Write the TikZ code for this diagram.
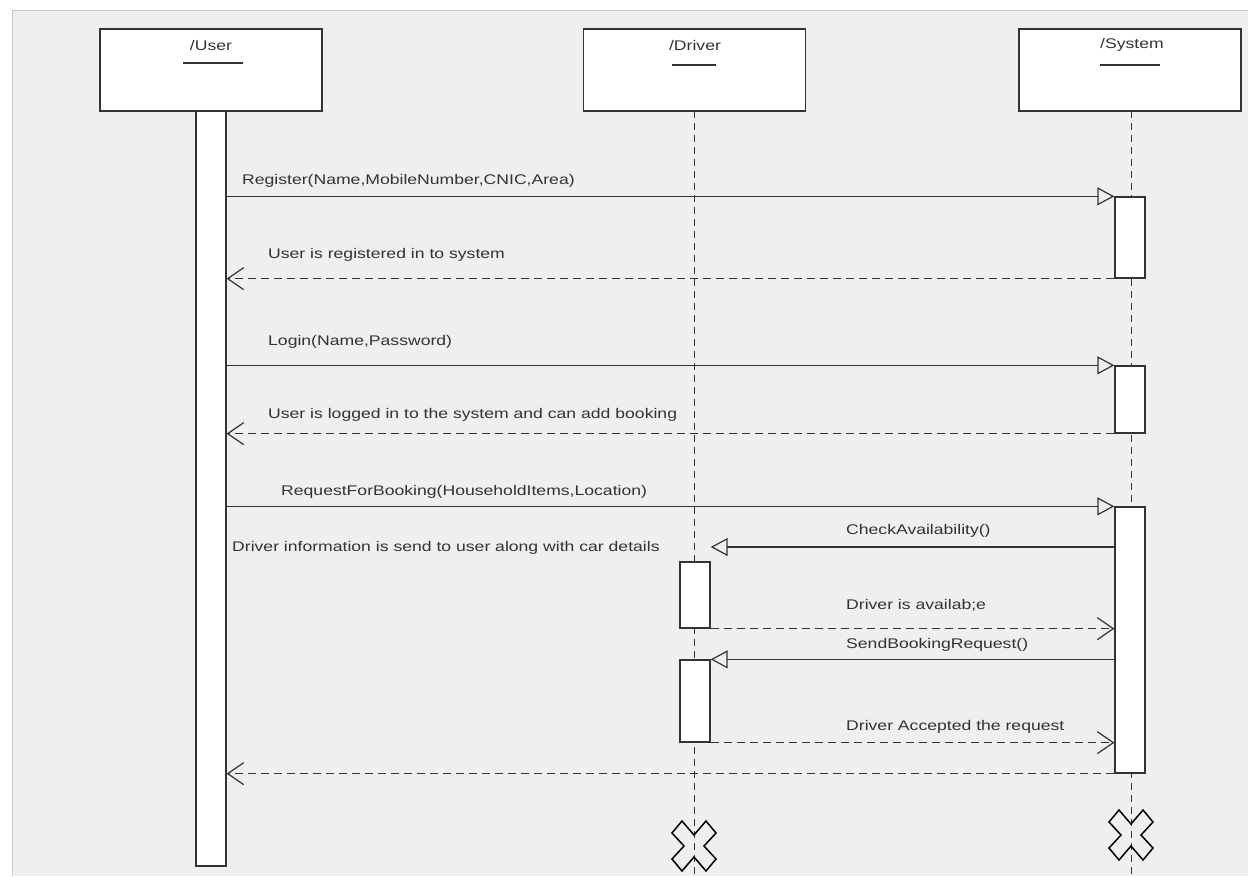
\documentclass[tikz,border=0pt]{standalone}
\usepackage{fontspec}
\setmainfont{Liberation Sans}
\usetikzlibrary{arrows.meta,calc}

\definecolor{panel}{HTML}{EFEFEF}
\definecolor{rim}{HTML}{C6C6C6}
\definecolor{ink}{HTML}{333333}

% the diagram tool sets its labels in a wide face: stretch text horizontally
\newcommand{\widetext}[1]{\scalebox{1.257}[1]{#1}}

\tikzset{
  head/.style={draw=ink, fill=white, line width=1.4pt, minimum width=222pt, minimum height=82pt, inner sep=0pt},
  headtitle/.style={font=\fontsize{14}{16}\selectfont, text=ink, inner sep=0pt},
  uline/.style={draw=ink, line width=1.3pt},
  actbar/.style={draw=ink, fill=white, line width=1.3pt, minimum width=30pt, inner sep=0pt},
  lifeline/.style={draw=ink, line width=1pt, dash pattern=on 7pt off 5pt},
  lbl/.style={font=\fontsize{14}{16}\selectfont, text=ink, inner sep=0pt, anchor=west},
  msg/.style={draw=ink, line width=1.5pt, -{Triangle[open, length=17pt, width=18pt, line width=1.2pt]}},
  ret/.style={draw=ink, line width=1.5pt, dash pattern=on 8pt off 5pt, -{Straight Barb[length=16pt, width=22pt, line width=1.2pt]}},
  endmark/.style={draw=black, line width=1.5pt, line join=miter},
}

\begin{document}
\begin{tikzpicture}[x=1pt, y=-1pt]
  \useasboundingbox (0,0) rectangle (1248,876);

  % canvas
  \fill[white] (0,0) rectangle (1248,876);
  \fill[panel] (12,10) rectangle (1248,876);
  \draw[rim, line width=1pt] (12,876) -- (12,10) -- (1248,10);

  % lifelines
  \draw[lifeline] (694,111) -- (694,876);
  \draw[lifeline] (1131,111) -- (1131,876);

  % participants
  \node[head] (user) at (211,70) {};
  \node[head] (driver) at (694.5,70) {};
  \node[head] (system) at (1130,70) {};
  \node[headtitle] (usert) at (211,45) {\widetext{/User}};
  \node[headtitle] (drivert) at (695,45) {\widetext{/Driver}};
  \node[headtitle] (systemt) at (1132,45) {\widetext{/System}};
  \draw[uline] (183,63) -- (243,63);
  \draw[uline] (672,65) -- (716,65);
  \draw[uline] (1100,65) -- (1160,65);

  % activation bars
  \node[actbar, minimum height=755pt] (ubar) at (211,488.5) {};
  \node[actbar, minimum height=81pt] (s1) at (1130,237.5) {};
  \node[actbar, minimum height=67pt] (s2) at (1130,399.5) {};
  \node[actbar, minimum height=266pt] (s3) at (1130,640) {};
  \node[actbar, minimum height=66pt] (d1) at (695,595) {};
  \node[actbar, minimum height=82pt] (d2) at (695,701) {};

  \coordinate (ycheck) at (0,547);

  % messages
  \draw[msg] (ubar.east |- s1.north) -- (s1.north west);
  \draw[ret] (s1.south west) -- (ubar.east |- s1.south);
  \draw[msg] (ubar.east |- s2.north) -- (s2.north west);
  \draw[ret] (s2.south west) -- (ubar.east |- s2.south);
  \draw[msg] (ubar.east |- s3.north) -- (s3.north west);
  \draw[msg] (s3.west |- ycheck) -- (d1.east |- ycheck);
  \draw[ret] (d1.south east) -- (s3.west |- d1.south);
  \draw[msg] (s3.west |- d2.north) -- (d2.north east);
  \draw[ret] (d2.south east) -- (s3.west |- d2.south);
  \draw[ret] (s3.south west) -- (ubar.east |- s3.south);

  % message labels
  \node[lbl] (t1) at (242,181) {\widetext{Register(Name,MobileNumber,CNIC,Area)}};
  \node[lbl] (t2) at (268,255) {\widetext{User is registered in to system}};
  \node[lbl] (t3) at (268,342) {\widetext{Login(Name,Password)}};
  \node[lbl] (t4) at (268,415) {\widetext{User is logged in to the system and can add booking}};
  \node[lbl] (t5) at (281,492) {\widetext{RequestForBooking(HouseholdItems,Location)}};
  \node[lbl] (t6) at (232,548) {\widetext{Driver information is send to user along with car details}};
  \node[lbl] (t7) at (846,531) {\widetext{CheckAvailability()}};
  \node[lbl] (t8) at (846,605) {\widetext{Driver is availab;e}};
  \node[lbl] (t9) at (846,645) {\widetext{SendBookingRequest()}};
  \node[lbl] (t10) at (846,727) {\widetext{Driver Accepted the request}};

  % destruction marks
  \foreach \cx/\cy in {694/846, 1131/835} {
    \draw[endmark] (\cx,\cy) ++(0,-11) -- ++(12,-14) -- ++(10,12) -- ++(-12,13)
      -- ++(12,13) -- ++(-10,12) -- ++(-12,-14) -- ++(-12,14) -- ++(-10,-12)
      -- ++(12,-13) -- ++(-12,-13) -- ++(10,-12) -- cycle;
  }
\end{tikzpicture}
\end{document}
